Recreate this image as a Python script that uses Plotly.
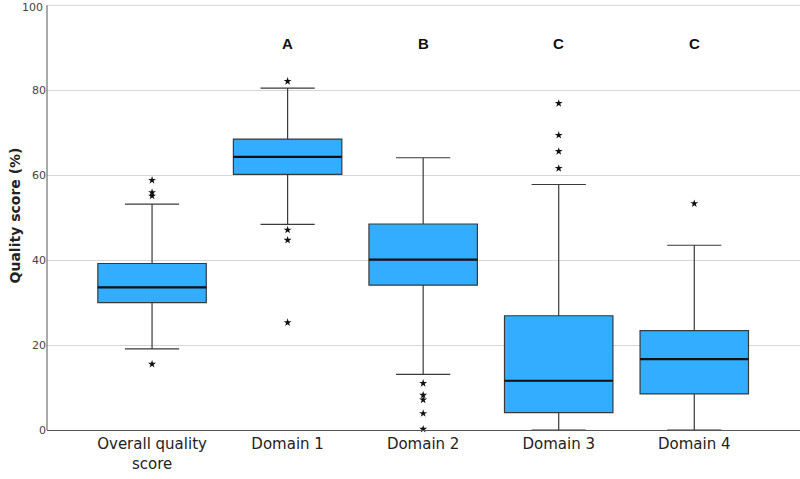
import plotly.graph_objects as go

categories = ["Overall quality<br>score", "Domain 1", "Domain 2", "Domain 3", "Domain 4"]
q1 = [30.0, 60.2, 34.1, 4.1, 8.5]
median = [33.6, 64.3, 40.1, 11.6, 16.7]
q3 = [39.2, 68.5, 48.5, 26.9, 23.4]
lower_whisker = [19.1, 48.4, 13.1, 0.0, 0.0]
upper_whisker = [53.2, 80.5, 64.1, 57.8, 43.5]
outliers = [
    [58.8, 55.9, 55.1, 15.5],
    [82.1, 47.1, 44.7, 25.3],
    [11.0, 8.2, 7.1, 3.9, 0.2],
    [76.9, 69.4, 65.6, 61.6],
    [53.3],
]
letters = ["", "A", "B", "C", "C"]
letter_y = 91
y_ticks = [0, 20, 40, 60, 80, 100]

FILL = "#33ADFF"
BOX_LINE = "#3a3a3a"
BOX_W = 0.8
GRID = "#d6d6d6"
TICKFONT = dict(family="DejaVu Sans", size=11, color="#444444")

fig = go.Figure()
idx = list(range(len(categories)))

fig.add_trace(go.Box(
    x=idx, q1=q1, median=median, q3=q3,
    lowerfence=lower_whisker, upperfence=upper_whisker,
    width=BOX_W, whiskerwidth=0.5,
    fillcolor=FILL, line=dict(color=BOX_LINE, width=1.2),
    boxpoints=False, showlegend=False, hoverinfo="skip",
))

# thicker median lines
mx, my = [], []
for i, m in zip(idx, median):
    mx += [i - BOX_W / 2, i + BOX_W / 2, None]
    my += [m, m, None]
fig.add_trace(go.Scatter(x=mx, y=my, mode="lines",
                         line=dict(color="#111111", width=2.2),
                         showlegend=False, hoverinfo="skip"))

# outliers as stars
ox, oy = [], []
for i, pts in zip(idx, outliers):
    ox += [i] * len(pts)
    oy += pts
fig.add_trace(go.Scatter(x=ox, y=oy, mode="markers",
                         marker=dict(symbol="star", size=6, color="#111111",
                                     line=dict(width=0)),
                         showlegend=False, hoverinfo="skip", cliponaxis=False))

for i, t in zip(idx, letters):
    if t:
        fig.add_annotation(x=i, y=letter_y, text="<b>%s</b>" % t, showarrow=False,
                           font=dict(family="Liberation Sans, Arial", size=15, color="#111111"))

# top tick (at the very edge of the plot) drawn explicitly
top = y_ticks[-1]
fig.add_annotation(xref="paper", x=0, y=top, text=str(top), showarrow=False,
                   xanchor="right", xshift=-3, yshift=-2, borderpad=0, font=TICKFONT)

fig.update_layout(
    width=800, height=479,
    margin=dict(l=47, r=0, t=1, b=49),
    paper_bgcolor="white", plot_bgcolor="white",
    font=dict(family="DejaVu Sans", color="#222222"),
    xaxis=dict(
        range=[-0.775, 4.78],
        tickmode="array", tickvals=idx, ticktext=categories,
        showgrid=False, zeroline=False,
        showline=True, linecolor="#555555", linewidth=1,
        ticks="", tickfont=dict(size=15, color="#222222"),
    ),
    yaxis=dict(
        range=[0, 101],
        tickmode="array", tickvals=y_ticks[:-1],
        showgrid=True, gridcolor=GRID, gridwidth=1,
        zeroline=False,
        showline=False,
        ticks="", tickfont=TICKFONT,
        title=dict(text="<b>Quality score (%)</b>", standoff=8,
                   font=dict(family="DejaVu Sans", size=14, color="#222222")),
    ),
    shapes=[
        dict(type="line", xref="paper", yref="y", x0=0, x1=1, y0=top, y1=top,
             line=dict(color=GRID, width=1), layer="below"),
        dict(type="line", xref="paper", yref="y", x0=0, x1=0, y0=0, y1=top,
             line=dict(color="#555555", width=1)),
    ],
)

fig.write_html("out.html")
